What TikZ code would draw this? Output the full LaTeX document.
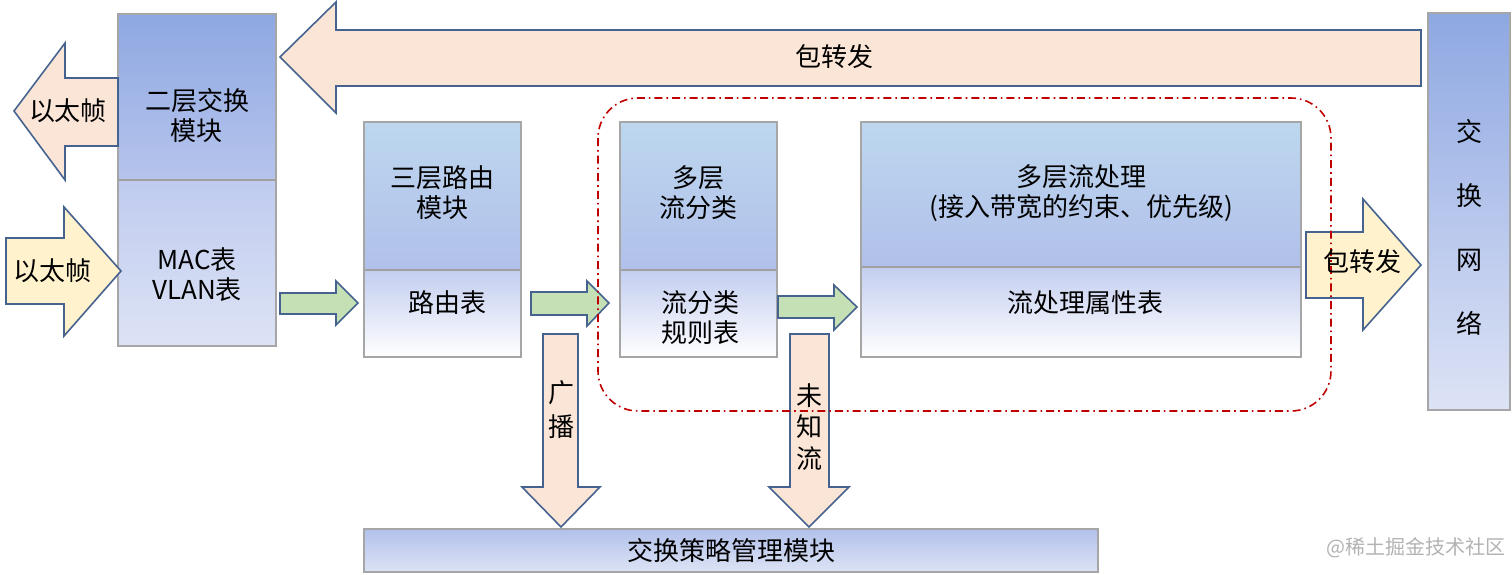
\documentclass[tikz,border=0pt]{standalone}
\usepackage{fontspec}
\setmainfont{Noto Sans CJK SC}
\definecolor{boxgray}{HTML}{A6A6A6}
\definecolor{sepgray}{HTML}{A0A0A0}
\definecolor{arrowline}{HTML}{46638F}
\definecolor{peach}{HTML}{FBE5D6}
\definecolor{paleyellow}{HTML}{FFF2CC}
\definecolor{palegreen}{HTML}{C5E0B4}
\definecolor{darkred}{HTML}{C00000}
\definecolor{blueA}{HTML}{8EA8E2}
\definecolor{blueB}{HTML}{B6C4EC}
\definecolor{blueC}{HTML}{BFCBEF}
\definecolor{blueD}{HTML}{DDE3F5}
\definecolor{skyA}{HTML}{BDD7EE}
\definecolor{skyB}{HTML}{B1C0EA}
\definecolor{lowA}{HTML}{C3CEF0}
\begin{document}
\begin{tikzpicture}[x=0.5pt,y=-0.5pt,
  boxline/.style={draw=boxgray,line width=0.6pt},
  seprule/.style={draw=sepgray,line width=1.3pt},
  darktop/.style={boxline,top color=blueA,bottom color=blueB},
  darklow/.style={boxline,top color=blueC,bottom color=blueD},
  skytop/.style={boxline,top color=skyA,bottom color=skyB},
  skylow/.style={boxline,top color=lowA,bottom color=white},
  blockarrow/.style={draw=arrowline,line width=0.8pt,line join=miter},
  label/.style={font=\fontsize{13}{15}\selectfont,align=center,inner sep=0pt},
  regionline/.style={draw=darkred,line width=0.8pt,dash pattern=on 4pt off 2pt on 0.8pt off 2pt,rounded corners=20pt}
]
\useasboundingbox (0,0) rectangle (1512,574);

% left module
\path[darktop] (118,14) rectangle (276,180);
\path[darklow] (118,180) rectangle (276,346);
\draw[seprule] (118,180) -- (276,180);

% switch network
\path[boxline,top color=blueA,bottom color=blueD] (1428,13) rectangle (1510,410);

% routing block
\path[skytop] (364,122) rectangle (521,270);
\path[skylow] (364,270) rectangle (521,357);
\draw[seprule] (364,270) -- (521,270);

% flow classification block
\path[skytop] (620,122) rectangle (777,270);
\path[skylow] (620,270) rectangle (777,357);
\draw[seprule] (620,270) -- (777,270);

% flow processing block
\path[skytop] (861,122) rectangle (1301,267);
\path[skylow] (861,267) rectangle (1301,357);
\draw[seprule] (861,267) -- (1301,267);

% bottom bar
\path[boxline,top color=blueB!90!blueA,bottom color=blueD] (364,529) rectangle (1098,572);

% block arrows
\path[blockarrow,fill=peach] (14,111) -- (65,43) -- (65,78) -- (118,78) -- (118,146) -- (65,146) -- (65,180) -- cycle;
\path[blockarrow,fill=paleyellow] (6,238) -- (64,238) -- (64,207) -- (121,271) -- (64,336) -- (64,304) -- (6,304) -- cycle;
\path[blockarrow,fill=peach] (280,57) -- (336,2) -- (336,30) -- (1421,30) -- (1421,86) -- (336,86) -- (336,113) -- cycle;
\path[blockarrow,fill=paleyellow] (1306,232) -- (1363,232) -- (1363,199) -- (1421,265) -- (1363,330) -- (1363,298) -- (1306,298) -- cycle;
\path[blockarrow,fill=palegreen] (280,293) -- (336,293) -- (336,281) -- (358,303) -- (336,325) -- (336,314) -- (280,314) -- cycle;
\path[blockarrow,fill=palegreen] (531,292) -- (587,292) -- (587,281) -- (609,303) -- (587,326) -- (587,315) -- (531,315) -- cycle;
\path[blockarrow,fill=palegreen] (778,296) -- (834,296) -- (834,285) -- (857,307) -- (834,330) -- (834,318) -- (778,318) -- cycle;
\path[blockarrow,fill=peach] (543,334) -- (578,334) -- (578,487) -- (600,487) -- (561,527) -- (522,487) -- (543,487) -- cycle;
\path[blockarrow,fill=peach] (790,334) -- (829,334) -- (829,487) -- (849,487) -- (809,527) -- (769,487) -- (790,487) -- cycle;

% dash-dot region
\path[regionline] (598,98) rectangle (1331,411);

% labels
\node[label] (l2) at (197,116) {二层交换\\模块};
\node[label] (mac) at (197,275) {MAC表\\VLAN表};
\node[label] (ethout) at (68,111) {以太帧};
\node[label] (ethin) at (52,271) {以太帧};
\node[label] (fwdtop) at (834,57) {包转发};
\node[label] (l3) at (442,193) {三层路由\\模块};
\node[label] (rt) at (447,303) {路由表};
\node[label] (mc) at (698,193) {多层\\流分类};
\node[label] (rules) at (700,318) {流分类\\规则表};
\node[label] (mp) at (1081,193) {多层流处理\\(接入带宽的约束、优先级)};
\node[label] (attr) at (1085,303) {流处理属性表};
\node[label] (fwdright) at (1362,262) {包转发};
\node[label,font=\fontsize{13}{32}\selectfont] (net) at (1469,227) {交\\换\\网\\络};
\node[label,font=\fontsize{13}{17}\selectfont] (bc) at (561,410) {广\\播};
\node[label,font=\fontsize{13}{15.8}\selectfont] (unk) at (809,427) {未\\知\\流};
\node[label] (mgmt) at (731,551) {交换策略管理模块};
\node[label,font=\fontsize{10}{12}\selectfont,text=black!30] (wm) at (1416,548) {@稀土掘金技术社区};
\end{tikzpicture}
\end{document}
